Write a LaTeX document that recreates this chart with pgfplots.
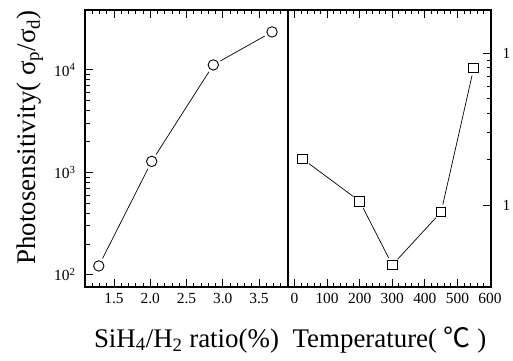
\documentclass[border=0pt]{standalone}
\usepackage{fontspec}
\setmainfont{Liberation Serif}
\newfontfamily\cjk{Noto Sans CJK SC}
\usepackage{pgfplots}
\pgfplotsset{compat=1.18}
\newcommand\tlf{\fontsize{15.5}{17}\selectfont}
\begin{document}
\begin{tikzpicture}
\useasboundingbox (0,0) rectangle (513bp,361bp);
\pgfplotsset{
  every axis/.append style={
    scale only axis, width=203bp, height=277bp, anchor=south west,
    axis line style={line width=1.6bp},
    tick style={line width=0.9bp, black},
    major tick length=8bp, minor tick length=4.5bp,
    tick align=inside,
    label style={font=\fontsize{27}{30}\selectfont},
    ymode=log,
    xtick pos=both,
    hide obscured x ticks=false,
    hide obscured y ticks=false,
    xlabel style={at={(axis description cs:0.5,-0.217)}, anchor=base},
  },
  halo/.style={only marks, mark=*, mark size=8bp, white, mark options={draw=white, fill=white}},
  ln/.style={black, line width=0.7bp, mark=none},
}
\begin{axis}[at={(85bp,74bp)}, xmin=1.1, xmax=3.9, ymin=76, ymax=38500,
  xtick={1.5,2,2.5,3,3.5}, xticklabels={1.5,2.0,2.5,3.0,3.5},
  minor xtick={1.1,1.2,1.3,1.4,1.6,1.7,1.8,1.9,2.1,2.2,2.3,2.4,2.6,2.7,2.8,2.9,3.1,3.2,3.3,3.4,3.6,3.7,3.8,3.9},
  xticklabel style={font=\tlf, yshift=-3bp},
  ytick pos=left,
  ytick={100,1000,10000}, yticklabels={10\textsuperscript{2},10\textsuperscript{3},10\textsuperscript{4}},
  yticklabel style={font=\tlf, xshift=-6bp},
  xlabel={SiH\textsubscript{4}/H\textsubscript{2} ratio(\%)},
  ylabel={Photosensitivity( σ\textsubscript{p}/σ\textsubscript{d})},
  ylabel style={at={(axis description cs:-0.271,0.54)}, anchor=center},
]
\addplot[ln] coordinates {(1.29,122)(2.02,1280)(2.87,11200)(3.68,23500)};
\addplot[halo] coordinates {(1.29,122)(2.02,1280)(2.87,11200)(3.68,23500)};
\addplot[only marks, mark=o, mark size=5.2bp, mark options={black, fill=white, line width=0.9bp}] coordinates {(1.29,122)(2.02,1280)(2.87,11200)(3.68,23500)};
\end{axis}
\begin{axis}[at={(288bp,74bp)}, xmin=-20, xmax=603, ymin=0.0289, ymax=1.92,
  xtick={0,100,200,300,400,500}, xticklabels={0,100,200,300,400,500},
  extra x ticks={600}, extra x tick labels={600},
  minor xtick={-20,20,40,60,80,120,140,160,180,220,240,260,280,320,340,360,380,420,440,460,480,520,540,560,580},
  xticklabel style={font=\tlf, yshift=-3bp},
  ytick pos=right,
  ytick={0.1,1}, yticklabels={1,1},
  yticklabel style={font=\tlf, xshift=8bp},
  xlabel={Temperature( {\cjk ℃} )},
]
\addplot[ln] coordinates {(25,0.201)(200,0.106)(300,0.0403)(450,0.090)(550,0.797)};
\addplot[halo, mark size=7.5bp] coordinates {(25,0.201)(200,0.106)(300,0.0403)(450,0.090)(550,0.797)};
\addplot[only marks, mark=square, mark size=4.8bp, mark options={black, fill=white, line width=0.9bp}] coordinates {(25,0.201)(200,0.106)(300,0.0403)(450,0.090)(550,0.797)};
\end{axis}
\end{tikzpicture}
\end{document}
